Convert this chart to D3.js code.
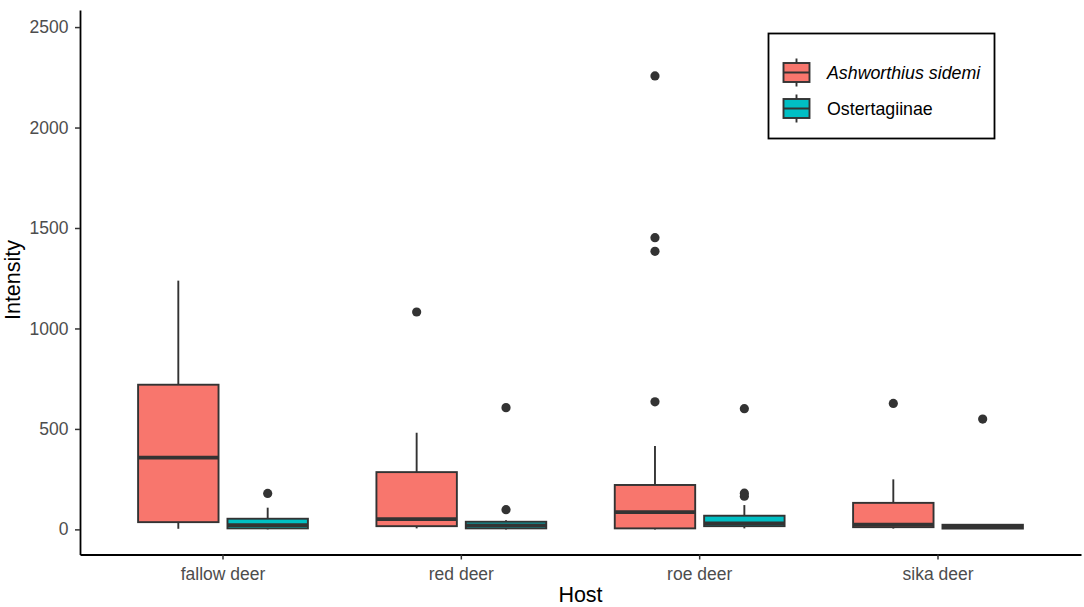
<!DOCTYPE html>
<html>
<head>
<meta charset="utf-8">
<script src="https://cdn.jsdelivr.net/npm/d3@7"></script>
<style>
  body { margin: 0; background: #fff; }
  svg { font-family: "Liberation Sans", Arial, sans-serif; }
</style>
</head>
<body>
<div id="chart"></div>
<script>
// categories and series
var hosts = ["fallow deer", "red deer", "roe deer", "sika deer"];
var seriesNames = ["Ashworthius sidemi", "Ostertagiinae"];
var seriesColors = ["#F8766D", "#00BFC4"];
var yTicks = [0, 500, 1000, 1500, 2000, 2500];

// box stats per host: [lower whisker, q1, median, q3, upper whisker]
var ashworthiusStats = [
    [3, 36, 357, 720, 1238],
    [5, 16, 51, 285, 481],
    [0, 5, 86, 221, 415],
    [4, 11, 24, 132, 249]
];
var ashworthiusOutliers = [
    [],
    [1082],
    [635, 1384, 1452, 2257],
    [627]
];
var ostertagiinaeStats = [
    [0, 5, 21, 53, 108],
    [0, 5, 20, 38, 46],
    [5, 16, 30, 68, 121],
    [3, 4, 12, 23, 23]
];
var ostertagiinaeOutliers = [
    [179],
    [98, 606],
    [165, 180, 601],
    [549]
];

var W = 1084, H = 607;
var margin = { top: 10, right: 3, bottom: 52.5, left: 80 };

var svg = d3.select("#chart").append("svg")
    .attr("width", W)
    .attr("height", H);

var x = d3.scaleBand()
    .domain(hosts)
    .range([margin.left, W - margin.right])
    .paddingInner(0)
    .paddingOuter(0.1);

var y = d3.scaleLinear()
    .domain([-125, 2585])
    .range([H - margin.bottom, margin.top]);

var step = x.step();
var dodge = step * 0.75 / 4;
var boxW = step * 0.75 / 2 * 0.9;

// build rows for drawing
var rows = [];
hosts.forEach(function(h, i) {
    [ashworthiusStats, ostertagiinaeStats].forEach(function(stats, s) {
        var outl = s == 0 ? ashworthiusOutliers : ostertagiinaeOutliers;
        rows.push({
            host: h,
            series: s,
            st: stats[i],
            out: outl[i],
            cx: x(h) + step / 2 + (s == 0 ? -dodge : dodge)
        });
    });
});

var line = "#333333";
var lw = 1.9;

var g = svg.append("g");

// whiskers
g.selectAll(".wh").data(rows).enter().append("line")
    .attr("x1", function(d) { return d.cx; })
    .attr("x2", function(d) { return d.cx; })
    .attr("y1", function(d) { return y(d.st[4]); })
    .attr("y2", function(d) { return y(d.st[3]); })
    .attr("stroke", line).attr("stroke-width", lw);
g.selectAll(".wl").data(rows).enter().append("line")
    .attr("x1", function(d) { return d.cx; })
    .attr("x2", function(d) { return d.cx; })
    .attr("y1", function(d) { return y(d.st[1]); })
    .attr("y2", function(d) { return y(d.st[0]); })
    .attr("stroke", line).attr("stroke-width", lw);

// boxes
g.selectAll(".box").data(rows).enter().append("rect")
    .attr("x", function(d) { return d.cx - boxW / 2; })
    .attr("width", boxW)
    .attr("y", function(d) { return y(d.st[3]); })
    .attr("height", function(d) { return y(d.st[1]) - y(d.st[3]); })
    .attr("fill", function(d) { return seriesColors[d.series]; })
    .attr("stroke", line).attr("stroke-width", lw);

// medians
g.selectAll(".med").data(rows).enter().append("line")
    .attr("x1", function(d) { return d.cx - boxW / 2; })
    .attr("x2", function(d) { return d.cx + boxW / 2; })
    .attr("y1", function(d) { return y(d.st[2]); })
    .attr("y2", function(d) { return y(d.st[2]); })
    .attr("stroke", line).attr("stroke-width", 3.8);

// outliers
rows.forEach(function(d) {
    g.selectAll(null).data(d.out).enter().append("circle")
        .attr("cx", d.cx)
        .attr("cy", function(v) { return y(v); })
        .attr("r", 4.6)
        .attr("fill", line);
});

// axes
var xAxis = svg.append("g")
    .attr("transform", "translate(0," + (H - margin.bottom) + ")")
    .call(d3.axisBottom(x).tickSize(5).tickSizeOuter(0));
var yAxis = svg.append("g")
    .attr("transform", "translate(" + margin.left + ",0)")
    .call(d3.axisLeft(y).tickValues(yTicks).tickFormat(d3.format("d")).tickSize(5).tickSizeOuter(0));

[xAxis, yAxis].forEach(function(a) {
    a.select(".domain").attr("stroke", "#000").attr("stroke-width", 1.8);
    a.selectAll(".tick line").attr("stroke", "#333333").attr("stroke-width", 1.5);
    a.selectAll(".tick text")
        .attr("fill", "#4D4D4D")
        .style("font-size", "17.5px")
        .style("font-family", "Liberation Sans, Arial, sans-serif");
});
xAxis.selectAll(".tick text").attr("y", 25).attr("dy", 0);
yAxis.selectAll(".tick text").attr("x", -11.5);

// axis titles
svg.append("text")
    .attr("x", (margin.left + W - margin.right) / 2)
    .attr("y", 602)
    .attr("text-anchor", "middle")
    .style("font-size", "21.5px")
    .text("Host");
svg.append("text")
    .attr("transform", "translate(20,280) rotate(-90)")
    .attr("text-anchor", "middle")
    .style("font-size", "21.5px")
    .text("Intensity");

// legend
var lg = svg.append("g");
lg.append("rect")
    .attr("x", 768.5).attr("y", 33.5)
    .attr("width", 226).attr("height", 105)
    .attr("fill", "#fff")
    .attr("stroke", "#000").attr("stroke-width", 1.8);

seriesNames.forEach(function(name, i) {
    var ky = 72.5 + i * 36;
    var k = lg.append("g");
    k.append("line")
        .attr("x1", 796.5).attr("x2", 796.5)
        .attr("y1", ky - 14).attr("y2", ky + 14)
        .attr("stroke", line).attr("stroke-width", lw);
    k.append("rect")
        .attr("x", 783.5).attr("y", ky - 9.5)
        .attr("width", 26).attr("height", 19)
        .attr("fill", seriesColors[i])
        .attr("stroke", line).attr("stroke-width", lw);
    k.append("line")
        .attr("x1", 783.5).attr("x2", 809.5)
        .attr("y1", ky).attr("y2", ky)
        .attr("stroke", line).attr("stroke-width", 2);
    lg.append("text")
        .attr("x", 827)
        .attr("y", ky + 6.5)
        .style("font-size", "17.8px")
        .style("font-style", i == 0 ? "italic" : "normal")
        .text(name);
});
</script>
</body>
</html>
